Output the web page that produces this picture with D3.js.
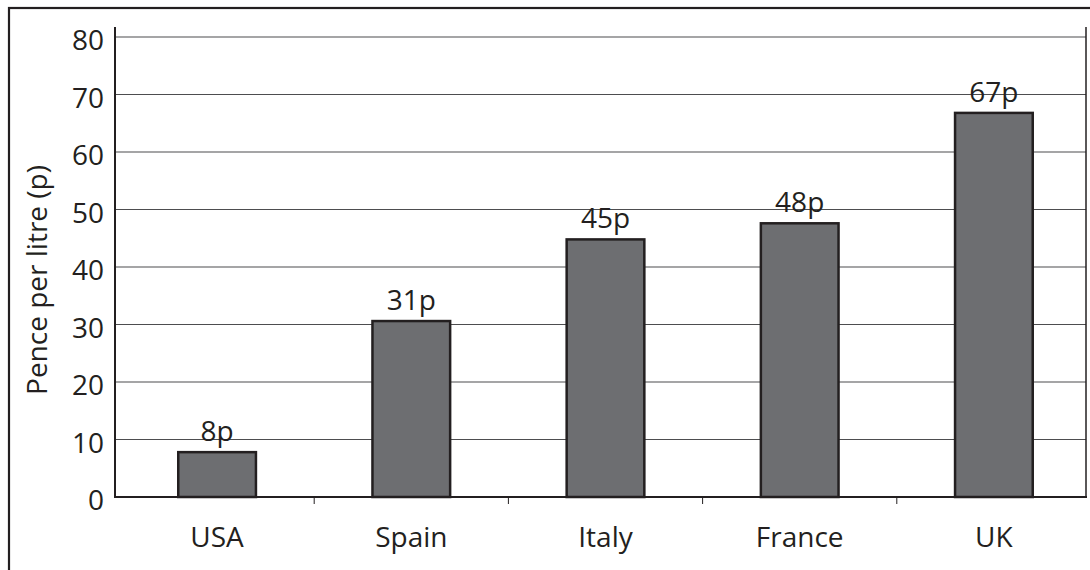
<!DOCTYPE html>
<html><head><meta charset="utf-8">
<script src="https://cdn.jsdelivr.net/npm/d3@7"></script>
<style>html,body{margin:0;padding:0;background:#fff;}svg{display:block;}</style>
</head><body>
<svg id="chart" width="1090" height="570"></svg>
<script>
const categories = ["USA", "Spain", "Italy", "France", "UK"];
const values = [7.8, 30.6, 44.8, 47.6, 66.8];
const valueLabels = ["8p", "31p", "45p", "48p", "67p"];
const yTicks = [0, 10, 20, 30, 40, 50, 60, 70, 80];
const yTitle = "Pence per litre (p)";

const svg = d3.select("#chart");
const font = "'Open Sans', 'Noto Sans', sans-serif";
const ink = "#231f20";
const fs = 28;

// outer frame
svg.append("rect").attr("x", 9).attr("y", 8).attr("width", 1200).attr("height", 700)
  .attr("fill", "none").attr("stroke", ink).attr("stroke-width", 2.2);

const plotL = 115, plotR = 1086, plotT = 27, plotB = 497;
const y = d3.scaleLinear().domain([0, 80]).range([plotB, 37]);
const x = d3.scaleBand().domain(categories).range([120, 1091]).paddingInner(0.6).paddingOuter(0.3);

// gridlines
svg.append("g").selectAll("line").data(yTicks.filter(d => d > 0)).join("line")
  .attr("x1", plotL).attr("x2", plotR)
  .attr("y1", d => y(d)).attr("y2", d => y(d))
  .attr("stroke", "#4d4d4f").attr("stroke-width", 1.2);

// y axis
const yAxis = d3.axisLeft(y).tickValues(yTicks).tickSize(0).tickPadding(11);
const gy = svg.append("g").attr("transform", `translate(${plotL},0)`).call(yAxis);
gy.select(".domain").remove();
gy.selectAll("text").attr("font-family", font).attr("font-size", fs).attr("fill", ink).attr("dy", "0.46em");

// frame lines of plot
svg.append("line").attr("x1", plotL).attr("x2", plotL).attr("y1", plotT).attr("y2", plotB + 1)
  .attr("stroke", ink).attr("stroke-width", 2);
svg.append("line").attr("x1", plotR).attr("x2", plotR).attr("y1", plotT).attr("y2", plotB + 1)
  .attr("stroke", ink).attr("stroke-width", 1.5);

// bars
svg.append("g").selectAll("rect").data(values).join("rect")
  .attr("x", (d, i) => x(categories[i]))
  .attr("width", x.bandwidth())
  .attr("y", d => y(d))
  .attr("height", d => plotB - y(d))
  .attr("fill", "#6d6e71").attr("stroke", ink).attr("stroke-width", 2.5);

// x axis
const boundaries = categories.slice(1).map(c => x(c) - (x.step() - x.bandwidth()) / 2);
svg.append("line").attr("x1", plotL - 1).attr("x2", plotR + 1).attr("y1", plotB).attr("y2", plotB)
  .attr("stroke", ink).attr("stroke-width", 2.2);
svg.append("g").selectAll("line").data(boundaries).join("line")
  .attr("x1", d => d).attr("x2", d => d).attr("y1", plotB).attr("y2", plotB + 7)
  .attr("stroke", ink).attr("stroke-width", 1);
svg.append("g").selectAll("text").data(categories).join("text")
  .attr("x", d => x(d) + x.bandwidth() / 2).attr("y", 547)
  .attr("text-anchor", "middle").attr("font-family", font).attr("font-size", fs).attr("fill", ink)
  .text(d => d);

// value labels
svg.append("g").selectAll("text").data(values).join("text")
  .attr("x", (d, i) => x(categories[i]) + x.bandwidth() / 2)
  .attr("y", d => y(d) - 11)
  .attr("text-anchor", "middle").attr("font-family", font).attr("font-size", fs).attr("fill", ink)
  .text((d, i) => valueLabels[i]);

// y title
svg.append("text").attr("transform", `translate(47,280) rotate(-90)`)
  .attr("text-anchor", "middle").attr("font-family", font).attr("font-size", fs).attr("fill", ink)
  .text(yTitle);
</script>
</body></html>
